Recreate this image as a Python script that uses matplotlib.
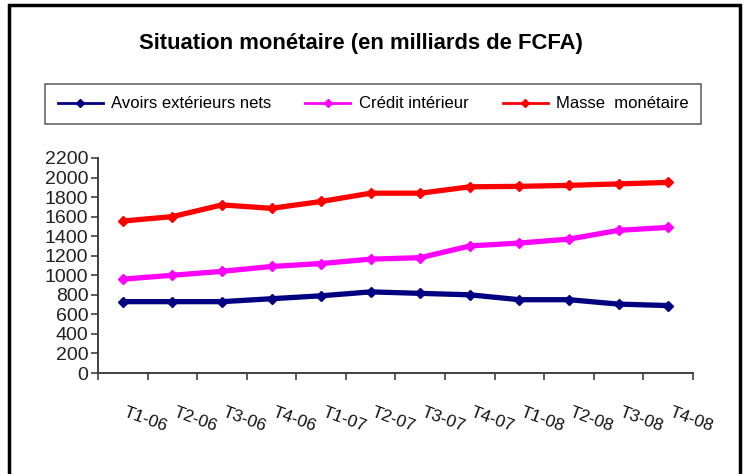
import matplotlib
matplotlib.use("Agg")
import matplotlib.pyplot as plt
from matplotlib.patches import Rectangle

plt.rcParams['font.family'] = ['Liberation Sans', 'DejaVu Sans']

categories = ["T1-06", "T2-06", "T3-06", "T4-06", "T1-07", "T2-07",
              "T3-07", "T4-07", "T1-08", "T2-08", "T3-08", "T4-08"]
avoirs = [730, 730, 730, 760, 790, 830, 815, 800, 750, 750, 705, 690]
credit = [960, 1000, 1040, 1090, 1120, 1165, 1180, 1300, 1330, 1370, 1460, 1490]
masse = [1555, 1600, 1720, 1685, 1755, 1840, 1840, 1905, 1910, 1920, 1935, 1950]
series_names = ["Avoirs extérieurs nets", "Crédit intérieur", "Masse  monétaire"]
colors = ["#000080", "#FF00FF", "#FF0000"]
yticks = list(range(0, 2201, 200))

W, H = 745, 474
fig = plt.figure(figsize=(W / 100, H / 100), dpi=100)
fig.patch.set_facecolor('white')

# outer border
fig.add_artist(Rectangle((8.5 / W, -0.02), (740 - 8.5) / W, 1.02 - 5 / H, transform=fig.transFigure,
                         fill=False, edgecolor='black', linewidth=2.5))

ax = fig.add_axes([98 / W, 1 - 373 / H, (693 - 98) / W, (373 - 158) / H])
x = list(range(len(categories)))
for vals, c, n in zip([avoirs, credit, masse], colors, series_names):
    ax.plot(x, vals, color=c, lw=3.8, marker='D', ms=5.5, mec=c, mfc=c,
            solid_joinstyle='round', solid_capstyle='round', label=n)

ax.set_xlim(-0.5, len(categories) - 0.5)
ax.set_ylim(0, 2200)
ax.set_yticks(yticks)
ax.set_yticklabels([str(v) for v in yticks], fontsize=14, color='#222222')
ax.set_xticks([i - 0.5 for i in range(len(categories) + 1)])
ax.set_xticklabels([])
ax.tick_params(axis='both', direction='out', length=5, width=1.2, color='#404040')
ax.tick_params(axis='y', pad=2)
for s in ['top', 'right']:
    ax.spines[s].set_visible(False)
for s in ['left', 'bottom']:
    ax.spines[s].set_color('#404040')
    ax.spines[s].set_linewidth(1.4)

for i, lab in enumerate(categories):
    ax.annotate(lab, xy=(i, 0), xycoords=('data', 'axes fraction'),
                xytext=(3, -23), textcoords='offset points',
                rotation=-20, rotation_mode='anchor', ha='left', va='top',
                fontsize=12.5, color='#111111')

fig.text(361 / W, 1 - 43 / H, "Situation monétaire (en milliards de FCFA)",
         ha='center', va='center', fontsize=15.8, fontweight='bold')

# legend
leg_handles = []
for c, n in zip(colors, series_names):
    h, = ax.plot([], [], color=c, lw=2, marker='D', ms=4, label=n)
    leg_handles.append(h)
leg = fig.legend(handles=leg_handles, loc='lower left', ncol=3, mode='expand',
                 bbox_to_anchor=(45 / W, 1 - 124 / H, (701 - 45) / W, 42 / H),
                 fontsize=12, frameon=True, fancybox=False, edgecolor='#404040',
                 handlelength=2.7, handletextpad=0.5, columnspacing=1.5,
                 borderpad=0.75, borderaxespad=0)
leg.get_frame().set_linewidth(1.2)

fig.savefig("out.png", dpi=100, facecolor='white')
